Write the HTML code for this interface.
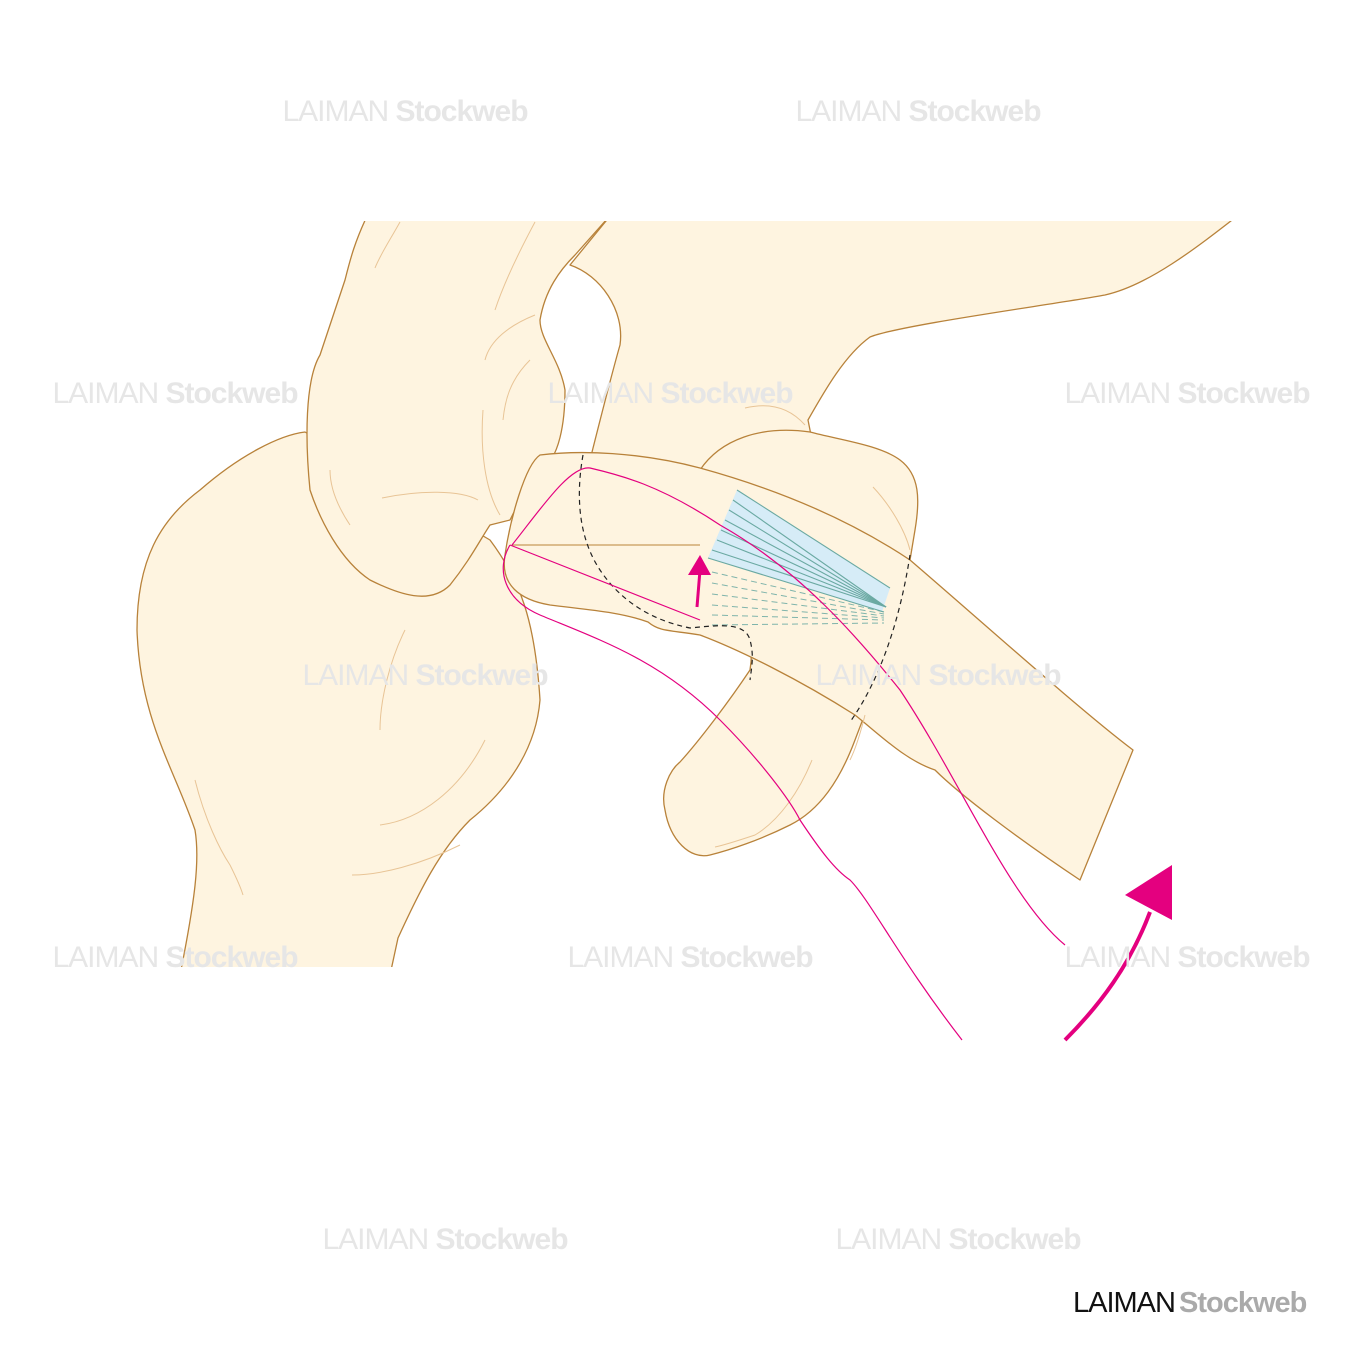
<!DOCTYPE html>
<html><head><meta charset="utf-8"><style>
html,body{margin:0;padding:0;background:#fff}
svg{display:block}
.wm{font-family:"Liberation Sans",sans-serif;font-size:30px;fill:#e6e6e6;text-anchor:middle;letter-spacing:-1px}
</style></head><body>
<svg width="1350" height="1350" viewBox="0 0 1350 1350" xmlns="http://www.w3.org/2000/svg">
<defs><clipPath id="c"><rect x="0" y="221" width="1350" height="746"/></clipPath></defs>
<g clip-path="url(#c)" fill="#fef4e0" stroke="#b8823a" stroke-width="1.3" stroke-linejoin="round">
<path d="M180,975 C195,900 200,860 195,830 C175,770 140,720 137,630 C137,560 160,520 200,490 C240,455 280,435 305,432 L490,540 C520,580 535,620 540,700 C535,760 495,800 470,820 C440,850 420,890 398,938 L390,975 Z"/>
<path d="M370,210 C355,240 350,260 345,280 L320,355 C305,380 305,440 310,490 C320,520 340,560 370,580 C400,595 430,605 450,585 C470,560 480,540 490,525 L510,520 C520,500 530,480 540,470 C560,460 565,420 565,390 C560,360 540,340 540,320 C545,290 560,270 575,255 L615,210 Z"/>
<path d="M615,210 L1245,210 C1200,245 1150,285 1105,295 C1050,305 900,325 870,337 C845,355 825,390 808,420 L820,480 L585,480 C600,420 610,380 620,345 C625,310 600,275 570,265 Z"/>
<path d="M700,470 C720,440 760,425 810,432 C840,440 880,445 900,460 C920,475 920,500 915,530 L905,590 C895,640 870,700 855,740 C840,780 820,810 790,825 C760,840 730,850 710,855 C690,860 670,840 665,810 C660,790 670,770 680,762 C700,740 730,700 750,670 C755,640 745,620 730,615 Z"/>
<path d="M540,455 C580,450 640,452 700,468 C780,490 850,520 910,560 C980,620 1080,710 1133,750 L1080,880 C1020,840 960,795 935,770 C905,760 880,735 855,715 C800,680 740,650 700,635 C670,630 660,632 648,622 C620,612 590,610 550,605 C520,600 500,585 505,555 C510,520 525,465 540,455Z"/>
</g>
<g fill="none" stroke="#e8c496" stroke-width="1">
<path d="M400,222 C390,240 380,255 375,268"/>
<path d="M535,222 C520,250 505,280 495,310"/>
<path d="M535,315 C510,325 490,340 485,360"/>
<path d="M530,360 C510,380 505,400 503,420"/>
<path d="M483,410 C480,450 485,490 500,515"/>
<path d="M330,470 C330,490 340,510 350,525"/>
<path d="M382,498 C420,490 460,490 478,500"/>
<path d="M405,630 C390,660 380,700 380,730"/>
<path d="M485,740 C460,790 420,820 380,825"/>
<path d="M460,845 C420,865 380,875 352,875"/>
<path d="M195,780 C205,820 220,850 230,865 C235,875 240,885 243,895"/>
<path d="M745,408 C770,402 790,408 805,425"/>
<path d="M873,487 C890,505 905,530 910,550"/>
<path d="M812,760 C800,790 780,820 755,835 C740,840 725,845 715,847"/>
<path d="M865,715 C860,735 855,750 850,760"/>
</g>
<line x1="512" y1="545" x2="700" y2="545" stroke="#c89a5a" stroke-width="1.3"/>
<polygon points="737,490 890,588 882,612 708,558" fill="#d6ecf7"/>
<g stroke="#6aa9a2" stroke-width="1.1" fill="none">
<line x1="737" y1="490" x2="890" y2="588"/>
<line x1="708" y1="558" x2="884" y2="612"/>
<line x1="733" y1="500" x2="886" y2="607"/>
<line x1="729" y1="510" x2="886" y2="607"/>
<line x1="725" y1="520" x2="886" y2="607"/>
<line x1="721" y1="530" x2="886" y2="607"/>
<line x1="717" y1="540" x2="886" y2="607"/>
<line x1="712" y1="550" x2="886" y2="607"/>
</g>
<g stroke="#6aa9a2" stroke-width="1" stroke-dasharray="6,4" fill="none" opacity="0.85">
<line x1="712" y1="572" x2="884" y2="612"/>
<line x1="712" y1="583" x2="884" y2="614"/>
<line x1="712" y1="594" x2="884" y2="616"/>
<line x1="712" y1="605" x2="884" y2="618"/>
<line x1="712" y1="615" x2="884" y2="620"/>
<line x1="712" y1="625" x2="884" y2="623"/>
</g>
<g fill="none" stroke="#222" stroke-width="1.2" stroke-dasharray="5,4">
<path d="M583,455 C575,500 580,540 600,570 C620,600 650,620 690,628 C720,625 745,622 750,640 C754,655 752,665 750,680"/>
<path d="M910,555 C900,620 880,680 850,722"/>
</g>
<g fill="none" stroke="#e4007f" stroke-width="1.2">
<path d="M512,545 C540,510 570,465 590,468 C620,475 660,485 720,525 C800,570 860,640 900,690 C960,780 1010,900 1065,945"/>
<path d="M510,545 L700,620"/>
<path d="M510,545 C495,570 505,600 540,615 C600,640 660,660 720,720 C760,760 790,800 800,820 C820,850 835,870 850,880 C870,900 900,960 962,1040"/>
</g>
<line x1="697" y1="607" x2="700" y2="570" stroke="#e4007f" stroke-width="3"/>
<polygon points="688,575 700,555 711,575" fill="#e4007f"/>
<path d="M1065,1040 C1100,1005 1130,965 1150,912" fill="none" stroke="#e4007f" stroke-width="4"/>
<polygon points="1125,895 1172,865 1172,920" fill="#e4007f"/>
<g class="wm">
<text x="405" y="121">LAIMAN <tspan font-weight="bold">Stockweb</tspan></text>
<text x="918" y="121">LAIMAN <tspan font-weight="bold">Stockweb</tspan></text>
<text x="175" y="403">LAIMAN <tspan font-weight="bold">Stockweb</tspan></text>
<text x="670" y="403">LAIMAN <tspan font-weight="bold">Stockweb</tspan></text>
<text x="1187" y="403">LAIMAN <tspan font-weight="bold">Stockweb</tspan></text>
<text x="425" y="685">LAIMAN <tspan font-weight="bold">Stockweb</tspan></text>
<text x="938" y="685">LAIMAN <tspan font-weight="bold">Stockweb</tspan></text>
<text x="175" y="967">LAIMAN <tspan font-weight="bold">Stockweb</tspan></text>
<text x="690" y="967">LAIMAN <tspan font-weight="bold">Stockweb</tspan></text>
<text x="1187" y="967">LAIMAN <tspan font-weight="bold">Stockweb</tspan></text>
<text x="445" y="1249">LAIMAN <tspan font-weight="bold">Stockweb</tspan></text>
<text x="958" y="1249">LAIMAN <tspan font-weight="bold">Stockweb</tspan></text>
</g>
<text x="1073" y="1312" font-family="Liberation Sans,sans-serif" font-size="29" letter-spacing="-1"><tspan fill="#111">LAIMAN</tspan><tspan fill="#aaa" dx="4" font-weight="bold">Stockweb</tspan></text>
</svg>
</body></html>
